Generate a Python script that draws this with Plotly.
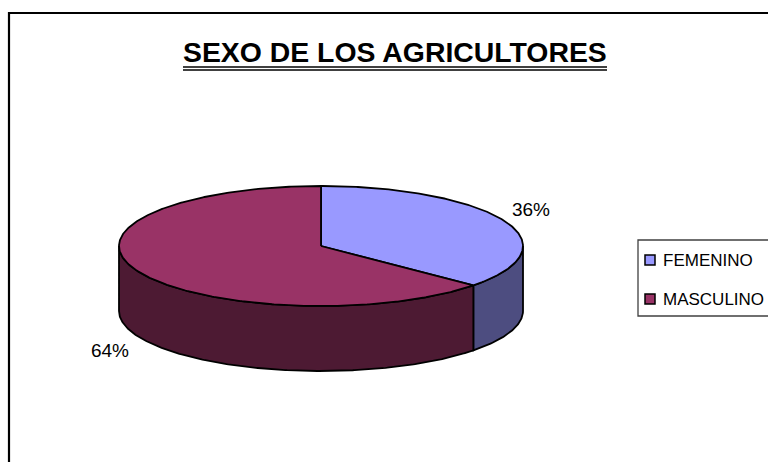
import numpy as np
import plotly.graph_objects as go

categories = ["FEMENINO", "MASCULINO"]
values = [36.4, 63.6]
title_text = "SEXO DE LOS AGRICULTORES"
top_colors = ["#9999FF", "#993366"]
side_colors = ["#4D4D80", "#4D1A33"]

CX, CY, RX, RY, DEPTH = 321, 246, 202, 60, 65
FONT = "Liberation Sans, Arial, sans-serif"


def rim(a, b, dy=0.0):
    t = np.radians(np.linspace(a, b, max(int(abs(b - a)) * 2, 2)))
    return CX + RX * np.sin(t), CY + dy - RY * np.cos(t)


fractions = np.array(values, dtype=float) / sum(values)
edges = np.concatenate([[0.0], np.cumsum(fractions) * 360.0])

fig = go.Figure()

# side walls (only the front half of the rim, 90..270 degrees, is visible)
for i in range(len(values)):
    a, b = max(edges[i], 90.0), min(edges[i + 1], 270.0)
    if a >= b:
        continue
    x1, y1 = rim(a, b)
    x2, y2 = rim(b, a, DEPTH)
    fig.add_trace(go.Scatter(
        x=np.r_[x1, x2, x1[0]], y=np.r_[y1, y2, y1[0]],
        mode="lines", fill="toself", fillcolor=side_colors[i],
        line=dict(color="black", width=1.8), hoverinfo="skip", showlegend=False))

# top faces
for i in range(len(values)):
    x1, y1 = rim(edges[i], edges[i + 1])
    fig.add_trace(go.Scatter(
        x=np.r_[CX, x1, CX], y=np.r_[CY, y1, CY],
        mode="lines", fill="toself", fillcolor=top_colors[i],
        line=dict(color="black", width=1.8), hoverinfo="skip", showlegend=False))

# percentage labels
label_pos = [(531, 211), (110, 352)]
for v, (lx, ly) in zip(values, label_pos):
    fig.add_trace(go.Scatter(
        x=[lx], y=[ly], mode="text", text=[f"{round(v)}%"], textposition="middle center",
        textfont=dict(family=FONT, size=19, color="black"),
        hoverinfo="skip", showlegend=False))

# legend swatches
swatch_y = [260, 299]
fig.add_trace(go.Scatter(
    x=[650, 650], y=swatch_y, mode="markers",
    marker=dict(symbol="square", size=10, color=top_colors, line=dict(color="black", width=1.5)),
    hoverinfo="skip", showlegend=False))

annotations = [
    dict(x=395, y=52, xref="x", yref="y", text=f"<b>{title_text}</b>", showarrow=False,
         font=dict(family=FONT, size=28.4, color="black"), xanchor="center", yanchor="middle"),
]
for name, sy in zip(categories, swatch_y):
    annotations.append(dict(x=663, y=sy, xref="x", yref="y", text=name, showarrow=False,
                            font=dict(family=FONT, size=17, color="black"),
                            xanchor="left", yanchor="middle", xshift=-2))

shapes = [
    # outer frame
    dict(type="rect", x0=9, y0=13, x1=790, y1=480, line=dict(color="black", width=2.2), layer="below"),
    # title double underline
    dict(type="line", x0=183, x1=607, y0=67, y1=67, line=dict(color="black", width=1.6)),
    dict(type="line", x0=183, x1=607, y0=70, y1=70, line=dict(color="black", width=1.4)),
    # legend box
    dict(type="rect", x0=638, y0=240, x1=790, y1=316, line=dict(color="#404040", width=1.3), layer="below"),
]

fig.update_layout(
    width=768, height=462, margin=dict(l=0, r=0, t=0, b=0),
    paper_bgcolor="white", plot_bgcolor="white", showlegend=False,
    xaxis=dict(range=[0, 768], visible=False, fixedrange=True),
    yaxis=dict(range=[462, 0], visible=False, fixedrange=True),
    annotations=annotations, shapes=shapes,
)

fig.write_html(
    "out.html",
    config={"displayModeBar": False},
    post_script="document.body.style.margin='0';document.body.style.overflow='hidden';",
)
